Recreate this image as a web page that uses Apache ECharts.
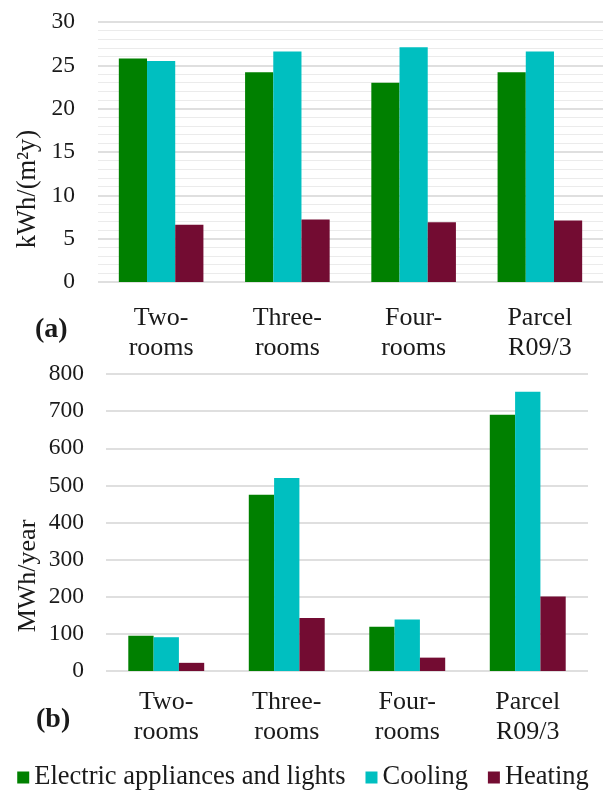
<!DOCTYPE html>
<html>
<head>
<meta charset="utf-8">
<script src="https://cdn.jsdelivr.net/npm/echarts@6/dist/echarts.min.js"></script>
<style>
html,body{margin:0;padding:0;background:#fff;}
#chart{width:606px;height:791px;}
</style>
</head>
<body>
<div id="chart"></div>
<script>
var categories = ['Two-\nrooms', 'Three-\nrooms', 'Four-\nrooms', 'Parcel\nR09/3'];
var seriesNames = ['Electric appliances and lights', 'Cooling', 'Heating'];
// (a) kWh/(m2y)
var intensityElectric = [25.8, 24.2, 23.0, 24.2];
var intensityCooling = [25.5, 26.6, 27.1, 26.6];
var intensityHeating = [6.6, 7.2, 6.9, 7.1];
// (b) MWh/year
var totalElectric = [95, 475, 119, 690];
var totalCooling = [91, 520, 139, 752];
var totalHeating = [22, 143, 36, 201];
var colors = ['#008000', '#00bfc0', '#730c32'];

var FONT = '"Liberation Serif", "DejaVu Serif", serif';
var TXT = '#1a1a1a';

var chart = echarts.init(document.getElementById('chart'), null, {renderer: 'canvas'});

function bar(name, data, idx, color, gap) {
  return {
    name: name, type: 'bar', xAxisIndex: idx, yAxisIndex: idx, data: data,
    barGap: '0%', barCategoryGap: gap,
    itemStyle: {color: color},
    emphasis: {disabled: true}
  };
}

chart.setOption({
  animation: false,
  color: colors,
  textStyle: {fontFamily: FONT, color: TXT},
  grid: [
    {left: 98, right: 3, top: 22, bottom: 509, containLabel: false},
    {left: 106, right: 18, top: 374, bottom: 120, containLabel: false}
  ],
  xAxis: [
    {gridIndex: 0, type: 'category', data: categories,
     axisLine: {show: false}, axisTick: {show: false},
     axisLabel: {fontFamily: FONT, fontSize: 26, color: TXT, lineHeight: 30, margin: 21}},
    {gridIndex: 1, type: 'category', data: categories,
     axisLine: {show: false}, axisTick: {show: false},
     axisLabel: {fontFamily: FONT, fontSize: 26, color: TXT, lineHeight: 30, margin: 16}}
  ],
  yAxis: [
    {gridIndex: 0, type: 'value', min: 0, max: 30, interval: 5,
     axisLine: {show: false}, axisTick: {show: false},
     axisLabel: {fontFamily: FONT, fontSize: 23.5, color: TXT, margin: 23},
     splitLine: {lineStyle: {color: '#d4d4d4', width: 1.5}},
     minorTick: {show: false, splitNumber: 5},
     minorSplitLine: {show: true, lineStyle: {color: '#ebebeb', width: 1}}},
    {gridIndex: 1, type: 'value', min: 0, max: 800, interval: 100,
     axisLine: {show: false}, axisTick: {show: false},
     axisLabel: {fontFamily: FONT, fontSize: 23.5, color: TXT, margin: 22},
     splitLine: {lineStyle: {color: '#d4d4d4', width: 1.5}}}
  ],
  legend: {
    top: 764, left: 'center', padding: 0,
    itemWidth: 12, itemHeight: 12, itemGap: 20,
    icon: 'rect',
    textStyle: {fontFamily: FONT, fontSize: 26.5, color: TXT, padding: [0, 0, 0, 0]},
    data: seriesNames
  },
  graphic: [
    {type: 'text', left: 35, top: 316, style: {text: '(a)', font: 'bold 28px ' + FONT, fill: TXT}},
    {type: 'text', left: 36, top: 706, style: {text: '(b)', font: 'bold 28px ' + FONT, fill: TXT}},
    {type: 'text', x: 28, y: 189, rotation: Math.PI / 2,
     style: {text: 'kWh/(m\u00B2y)', font: '26.5px ' + FONT, fill: TXT, align: 'center', verticalAlign: 'middle'}},
    {type: 'text', x: 28, y: 576, rotation: Math.PI / 2,
     style: {text: 'MWh/year', font: '26px ' + FONT, fill: TXT, align: 'center', verticalAlign: 'middle'}}
  ],
  series: [
    bar(seriesNames[0], intensityElectric, 0, colors[0], '33%'),
    bar(seriesNames[1], intensityCooling, 0, colors[1], '33%'),
    bar(seriesNames[2], intensityHeating, 0, colors[2], '33%'),
    bar(seriesNames[0], totalElectric, 1, colors[0], '37%'),
    bar(seriesNames[1], totalCooling, 1, colors[1], '37%'),
    bar(seriesNames[2], totalHeating, 1, colors[2], '37%')
  ]
});
</script>
</body>
</html>
